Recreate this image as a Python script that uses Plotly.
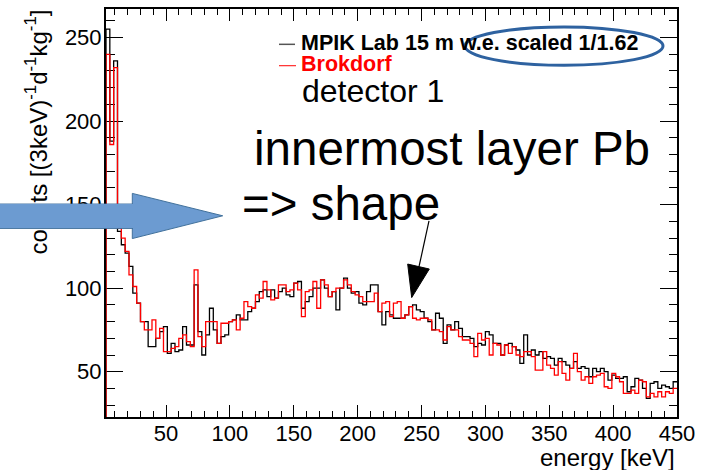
import plotly.graph_objects as go

# ---------------- data (3 keV bins starting at 3 keV) ----------------
bin_width = 3
first_edge = 3

mpik_scaled = [
    255, 188, 236, 134, 126, 121, 113, 97, 91, 80,
    80, 65, 65, 70, 74, 77, 61, 67, 62, 63,
    77, 66, 66, 102, 74, 60, 72, 88, 75, 67,
    71, 72, 80, 81, 84, 81, 81, 86, 88, 92,
    98, 99, 95, 99, 94, 98, 100, 96, 95, 103,
    104, 88, 92, 95, 100, 100, 105, 100, 95, 98,
    87, 100, 106, 100, 97, 98, 91, 90, 98, 102,
    102, 86, 78, 86, 84, 82, 82, 82, 84, 89,
    90, 87, 86, 82, 80, 75, 85, 82, 67, 78,
    75, 80, 76, 71, 71, 70, 65, 67, 66, 74,
    72, 67, 67, 60, 66, 67, 65, 63, 55, 72,
    60, 63, 60, 62, 58, 59, 58, 54, 58, 56,
    54, 52, 56, 52, 53, 52, 47, 52, 50, 52,
    50, 45, 48, 46, 46, 47, 38, 41, 46, 45,
    40, 34, 43, 44, 40, 42, 41, 40, 44,
]

brokdorf = [
    240, 186, 232, 136, 130, 122, 108, 101, 91, 80,
    75, 75, 81, 70, 76, 62, 62, 64, 65, 70,
    72, 68, 65, 111, 71, 65, 80, 80, 80, 67,
    79, 79, 80, 81, 75, 82, 92, 89, 88, 96,
    94, 104, 99, 93, 94, 102, 102, 98, 99, 103,
    99, 83, 98, 99, 104, 88, 105, 102, 95, 98,
    100, 100, 105, 102, 98, 96, 95, 92, 92, 92,
    97, 86, 91, 92, 83, 91, 92, 82, 84, 89,
    82, 81, 82, 82, 81, 75, 75, 74, 69, 77,
    75, 75, 71, 69, 69, 67, 59, 73, 69, 70,
    60, 67, 66, 60, 66, 61, 65, 60, 59, 62,
    62, 59, 51, 51, 62, 54, 52, 48, 56, 49,
    45, 52, 61, 50, 45, 47, 43, 47, 48, 49,
    41, 40, 49, 47, 44, 37, 37, 39, 37, 45,
    44, 35, 37, 35, 38, 35, 38, 37, 40,
]

x_ticks = [50, 100, 150, 200, 250, 300, 350, 400, 450]
y_ticks = [50, 100, 150, 200, 250]

legend_labels = ["MPIK Lab 15 m w.e. scaled 1/1.62", "Brokdorf"]
x_title = "energy [keV]"
y_title = "counts [(3keV)<sup>-1</sup>d<sup>-1</sup>kg<sup>-1</sup>]"

# ---------------- helpers ----------------
FONT = "Liberation Sans, Arial, sans-serif"
W, H = 711, 470
L, R, T, B = 106, 677, 7, 417


def fx(px):
    return (px - L) / (R - L)


def fy(py):
    return (B - py) / (B - T)


def step_xy(values):
    edges = [first_edge + bin_width * i for i in range(len(values) + 1)]
    xs = [edges[0]] + edges[:-1] + [edges[-1]]
    ys = [0] + list(values) + [values[-1]]
    return xs, ys


fig = go.Figure()
for vals, col, name in [(mpik_scaled, "black", legend_labels[0]),
                        (brokdorf, "#ff0000", legend_labels[1])]:
    xs, ys = step_xy(vals)
    fig.add_trace(go.Scatter(x=xs, y=ys, mode="lines", name=name,
                             line=dict(color=col, width=1.3, shape="hv"),
                             showlegend=False, hoverinfo="skip"))

axis_common = dict(
    showgrid=False, zeroline=False, showline=True, linecolor="black",
    linewidth=2, mirror="ticks", ticks="inside", tickcolor="black",
    tickwidth=1, tickfont=dict(family=FONT, size=22, color="black"),
    layer="below traces",
)

fig.update_xaxes(range=[first_edge, 450], tickvals=x_ticks, ticklen=12,
                 minor=dict(dtick=10, ticklen=6, ticks="inside",
                            tickcolor="black", tickwidth=1),
                 ticklabelstandoff=-4, **axis_common)
fig.update_yaxes(range=[22.9, 267.1], tickvals=y_ticks, ticklen=17,
                 minor=dict(dtick=10, ticklen=8.5, ticks="inside",
                            tickcolor="black", tickwidth=1),
                 ticklabelstandoff=-2, **axis_common)

shapes = []
# legend line markers
shapes.append(dict(type="line", xref="paper", yref="paper",
                   x0=fx(279), x1=fx(295), y0=fy(42.5), y1=fy(42.5),
                   line=dict(color="#555555", width=1.5)))
shapes.append(dict(type="line", xref="paper", yref="paper",
                   x0=fx(279), x1=fx(296), y0=fy(64), y1=fy(64),
                   line=dict(color="#ff0000", width=1)))
# ellipse
shapes.append(dict(type="circle", xref="paper", yref="paper",
                   x0=fx(465), x1=fx(663), y0=fy(63.5), y1=fy(25),
                   line=dict(color="#2E62A0", width=3)))
# black arrow
shapes.append(dict(type="line", xref="paper", yref="paper",
                   x0=fx(429), y0=fy(220), x1=fx(419), y1=fy(266),
                   line=dict(color="black", width=1.2)))
shapes.append(dict(type="path", xref="paper", yref="paper",
                   path=f"M {fx(407.7)},{fy(263.3)} L {fx(429.3)},{fy(268.3)} L {fx(411.7)},{fy(297)} Z",
                   fillcolor="black", line=dict(color="black", width=1)))
# blue block arrow: head + shaft outline
BLUE = "#6C9BD1"
BLUE_EDGE = "#41719C"
shapes.append(dict(type="path", xref="paper", yref="paper",
                   path=f"M {fx(132.3)},{fy(192.3)} L {fx(222.7)},{fy(214.8)} L {fx(132.3)},{fy(237.7)} Z",
                   fillcolor=BLUE, line=dict(color=BLUE_EDGE, width=1)))
shapes.append(dict(type="line", xref="paper", yref="paper",
                   x0=fx(0), x1=fx(133), y0=fy(203), y1=fy(203),
                   line=dict(color=BLUE_EDGE, width=1)))
shapes.append(dict(type="line", xref="paper", yref="paper",
                   x0=fx(0), x1=fx(133), y0=fy(227.5), y1=fy(227.5),
                   line=dict(color=BLUE_EDGE, width=1)))

annotations = [
    # y-axis title (drawn first so the blue shaft covers it)
    dict(text=y_title, xref="paper", yref="paper", x=fx(36), y=fy(6),
         xanchor="center", yanchor="top", textangle=-90, showarrow=False,
         font=dict(family=FONT, size=24, color="black")),
    # blue shaft
    dict(text=" ", xref="paper", yref="paper", x=fx(0), y=fy(215.3),
         xanchor="left", yanchor="middle", showarrow=False, width=134,
         height=24, bgcolor=BLUE, borderpad=0, borderwidth=0,
         font=dict(size=4)),
    dict(text=x_title, xref="paper", yref="paper", x=fx(677), y=fy(458),
         xanchor="right", yanchor="middle", showarrow=False,
         font=dict(family=FONT, size=24, color="black")),
    dict(text="<b>" + legend_labels[0] + "</b>", xref="paper", yref="paper",
         x=fx(299), y=fy(41.5), xanchor="left", yanchor="middle",
         showarrow=False, font=dict(family=FONT, size=21.5, color="black")),
    dict(text="<b>" + legend_labels[1] + "</b>", xref="paper", yref="paper",
         x=fx(299), y=fy(62), xanchor="left", yanchor="middle",
         showarrow=False, font=dict(family=FONT, size=21.5, color="#ff0000")),
    dict(text="detector 1", xref="paper", yref="paper",
         x=fx(300), y=fy(89), xanchor="left", yanchor="middle",
         showarrow=False, font=dict(family=FONT, size=32, color="black")),
    dict(text="innermost layer Pb", xref="paper", yref="paper",
         x=fx(252), y=fy(147), xanchor="left", yanchor="middle",
         showarrow=False, font=dict(family=FONT, size=47.5, color="black")),
    dict(text="=> shape", xref="paper", yref="paper",
         x=fx(240), y=fy(202), xanchor="left", yanchor="middle",
         showarrow=False, font=dict(family=FONT, size=47.5, color="black")),
]

fig.update_layout(
    width=W, height=H,
    margin=dict(l=L, r=W - R, t=T, b=H - B, pad=0),
    paper_bgcolor="white", plot_bgcolor="white",
    shapes=shapes, annotations=annotations,
    showlegend=False,
)

fig.write_html("out.html", config={"displayModeBar": False},
               post_script="document.body.style.margin='0';document.body.style.padding='0';")
